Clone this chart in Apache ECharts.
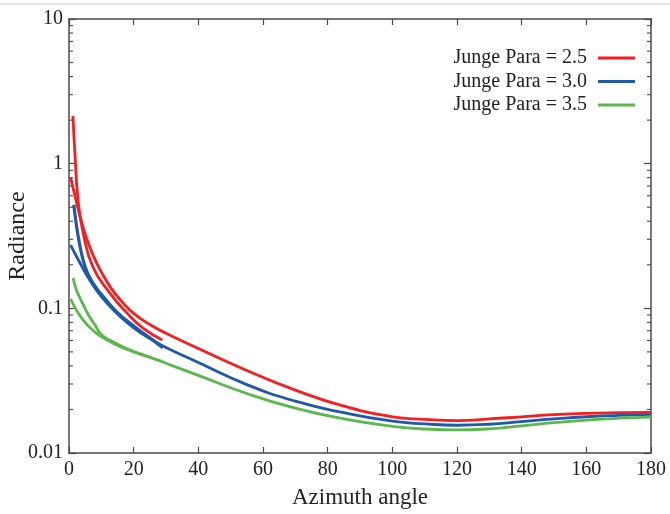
<!DOCTYPE html>
<html>
<head>
<meta charset="utf-8">
<script src="https://cdn.jsdelivr.net/npm/echarts@6/dist/echarts.min.js"></script>
<style>
  html, body { margin: 0; padding: 0; background: #fff; }
  #chart { width: 670px; height: 514px; }
</style>
</head>
<body>
<div id="chart"></div>
<script>
// Radiance versus azimuth angle for three Junge size-distribution parameters.
const seriesNames = ['Junge Para = 2.5', 'Junge Para = 3.0', 'Junge Para = 3.5'];
const seriesColors = ['#fb1d1d', '#1d5aab', '#5bb84a'];

// Full azimuth sweep (0–180°)
const redAngle     = [0.5, 2, 3.5, 5.5, 8, 10, 13, 16, 20, 25, 30, 40, 55, 70, 85, 100, 110, 120, 130, 140, 150, 160, 170, 180];
const redRadiance  = [0.80, 0.579, 0.425, 0.302, 0.219, 0.178, 0.138, 0.1135, 0.0923, 0.0773, 0.0673, 0.0528, 0.0372, 0.0272, 0.0211, 0.0178, 0.0171, 0.01675, 0.0172, 0.0178, 0.0184, 0.0188, 0.0190, 0.0191];

const blueAngle    = [0.5, 3, 6, 9, 12, 16, 20, 25, 30, 40, 55, 70, 85, 100, 110, 120, 130, 140, 150, 160, 170, 180];
const blueRadiance = [0.274, 0.214, 0.162, 0.129, 0.107, 0.0871, 0.0733, 0.0617, 0.0537, 0.0422, 0.0297, 0.0228, 0.0190, 0.0166, 0.0159, 0.01555, 0.0158, 0.0165, 0.0172, 0.0178, 0.0182, 0.0185];

const greenAngle    = [0.5, 2, 4, 7, 10, 14, 18, 24, 30, 40, 55, 70, 85, 100, 110, 120, 130, 140, 150, 160, 170, 180];
const greenRadiance = [0.116, 0.100, 0.0851, 0.0716, 0.0638, 0.0569, 0.0519, 0.0468, 0.0417, 0.0344, 0.0258, 0.0204, 0.0172, 0.0153, 0.01465, 0.01445, 0.0147, 0.0154, 0.0162, 0.0169, 0.0174, 0.0177];

// Near-forward segment (first ~30°)
const redShortAngle     = [1.2, 1.9, 2.8, 4.4, 7.4, 12.7, 17.9, 22.9, 28.8];
const redShortRadiance  = [2.14, 1.10, 0.56, 0.33, 0.193, 0.127, 0.093, 0.073, 0.0605];

const blueShortAngle    = [1.5, 2, 3, 4.5, 6, 8, 10, 15, 20, 25, 29];
const blueShortRadiance = [0.52, 0.42, 0.30, 0.21, 0.17, 0.143, 0.125, 0.0935, 0.0755, 0.0625, 0.0535];

const greenShortAngle    = [1.3, 2, 3, 4.5, 6, 8, 10, 14, 18, 24, 29];
const greenShortRadiance = [0.162, 0.14, 0.123, 0.105, 0.09, 0.077, 0.066, 0.058, 0.0525, 0.0466, 0.0428];

// Axis ticks
const xTicks = { min: 0, max: 180, step: 20 };
const yDecades = [0.01, 0.1, 1, 10];

const pairs = (xs, ys) => xs.map((x, i) => [x, ys[i]]);

const minorValues = [];
for (let d = 0; d < yDecades.length - 1; d++) {
  for (let k = 2; k <= 9; k++) minorValues.push([0, yDecades[d] * k]);
}

const serif = 'Liberation Serif, Times New Roman, serif';
const axisColor = '#4a4a4a';
const frameLine = { show: true, onZero: false, lineStyle: { color: axisColor, width: 1.5 } };

function lineSeries(name, color, data, width) {
  return {
    name, type: 'line', data, smooth: 0.5, symbol: 'none',
    xAxisIndex: 0, yAxisIndex: 0,
    lineStyle: { color, width }, itemStyle: { color },
    z: 3
  };
}

const chart = echarts.init(document.getElementById('chart'), null, { renderer: 'canvas' });

chart.setOption({
  animation: false,
  backgroundColor: '#fff',
  grid: { left: 69, right: 19, top: 19, bottom: 61, containLabel: false, outerBoundsMode: 'none' },
  graphic: [{
    type: 'rect', shape: { x: 0, y: 3, width: 670, height: 2 },
    style: { fill: '#e9e9e9' }, silent: true
  }],
  legend: {
    data: seriesNames.map(n => ({ name: n, icon: 'rect' })),
    orient: 'vertical',
    right: 35, top: 48, padding: 0,
    align: 'right',
    itemWidth: 37, itemHeight: 3, itemGap: 3.5,
    textStyle: { fontFamily: serif, fontSize: 20, color: '#222', padding: [0, 6, 0, 0] }
  },
  xAxis: [{
    type: 'value', min: xTicks.min, max: xTicks.max, interval: xTicks.step,
    name: 'Azimuth angle', nameLocation: 'middle', nameGap: 33, nameMoveOverlap: false,
    nameTextStyle: { fontFamily: serif, fontSize: 23, color: '#222' },
    axisLine: frameLine,
    axisTick: { show: true, inside: true, length: 6, lineStyle: { color: axisColor, width: 1.2 } },
    axisLabel: { fontFamily: serif, fontSize: 20, color: '#222', margin: 7 },
    splitLine: { show: false }
  }, {
    type: 'value', position: 'top', min: xTicks.min, max: xTicks.max, interval: xTicks.step,
    axisLine: frameLine,
    axisTick: { show: true, inside: true, length: 6, lineStyle: { color: axisColor, width: 1.2 } },
    axisLabel: { show: false }, splitLine: { show: false }
  }],
  yAxis: [{
    type: 'log', logBase: 10, min: yDecades[0], max: yDecades[yDecades.length - 1],
    name: 'Radiance', nameLocation: 'middle', nameGap: 39, nameRotate: 90, nameMoveOverlap: false,
    nameTextStyle: { fontFamily: serif, fontSize: 24, color: '#222' },
    axisLine: frameLine,
    axisTick: { show: true, inside: true, length: 7, lineStyle: { color: axisColor, width: 1.2 } },
    axisLabel: {
      fontFamily: serif, fontSize: 20, color: '#222', margin: 6,
      formatter: v => String(yDecades.find(t => Math.abs(t - v) / t < 1e-6) ?? v)
    },
    splitLine: { show: false }
  }, {
    type: 'log', logBase: 10, position: 'right', min: yDecades[0], max: yDecades[yDecades.length - 1],
    axisLine: frameLine,
    axisTick: { show: true, inside: true, length: 7, lineStyle: { color: axisColor, width: 1.2 } },
    axisLabel: { show: false }, splitLine: { show: false }
  }],
  series: [
    lineSeries(seriesNames[0], seriesColors[0], pairs(redAngle, redRadiance), 2.8),
    lineSeries(seriesNames[1], seriesColors[1], pairs(blueAngle, blueRadiance), 2.8),
    lineSeries(seriesNames[2], seriesColors[2], pairs(greenAngle, greenRadiance), 2.8),
    lineSeries(seriesNames[0], seriesColors[0], pairs(redShortAngle, redShortRadiance), 2.8),
    lineSeries(seriesNames[1], seriesColors[1], pairs(blueShortAngle, blueShortRadiance), 3.2),
    lineSeries(seriesNames[2], seriesColors[2], pairs(greenShortAngle, greenShortRadiance), 2.8),
    {
      // log-scale minor ticks on the left and right frame edges
      type: 'custom', silent: true, xAxisIndex: 0, yAxisIndex: 0, clip: false,
      data: minorValues,
      renderItem: (params, api) => {
        const v = api.value(1);
        const l = api.coord([xTicks.min, v]);
        const r = api.coord([xTicks.max, v]);
        const style = { stroke: axisColor, lineWidth: 1.1 };
        return {
          type: 'group', children: [
            { type: 'line', shape: { x1: l[0], y1: l[1], x2: l[0] + 4, y2: l[1] }, style },
            { type: 'line', shape: { x1: r[0], y1: r[1], x2: r[0] - 4, y2: r[1] }, style }
          ]
        };
      },
      z: 1
    }
  ]
});
</script>
</body>
</html>
